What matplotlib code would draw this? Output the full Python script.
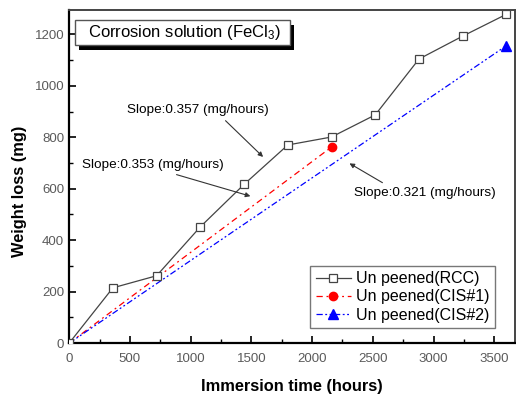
import matplotlib
matplotlib.use("Agg")
import matplotlib.pyplot as plt
from matplotlib.patches import Rectangle

plt.rcParams['font.family'] = ['Liberation Sans', 'DejaVu Sans']
plt.rcParams['mathtext.default'] = 'regular'

# data
hours_rcc = [0, 360, 720, 1080, 1440, 1800, 2160, 2520, 2880, 3240, 3600]
loss_rcc = [0, 215, 262, 452, 617, 770, 801, 887, 1104, 1193, 1278]
hours_cis1 = [0, 2160]
loss_cis1 = [0, 762]
hours_cis2 = [0, 3600]
loss_cis2 = [0, 1156]
labels = ['Un peened(RCC)', 'Un peened(CIS#1)', 'Un peened(CIS#2)']
slopes = ['Slope:0.357 (mg/hours)', 'Slope:0.353 (mg/hours)', 'Slope:0.321 (mg/hours)']

fig = plt.figure(figsize=(5.16, 3.94), dpi=100)
ax = fig.add_axes([0.134, 0.129, 0.864, 0.846])

ax.plot(hours_rcc, loss_rcc, color='#444444', lw=0.9, marker='s', ms=6,
        mfc='white', mec='#444444', mew=0.9, label=labels[0], zorder=3)
ax.plot(hours_cis1, loss_cis1, color='red', lw=0.9, dashes=(5, 3, 1.5, 3),
        marker='o', ms=6, markevery=[1], label=labels[1])
ax.plot(hours_cis2, loss_cis2, color='blue', lw=0.9, dashes=(5, 2, 1.5, 2, 1.5, 2),
        marker='^', ms=7, markevery=[1], label=labels[2])

ax.set_xlim(0, 3670)
ax.set_ylim(0, 1295)
ax.set_xticks(range(0, 4000, 500))
ax.set_xticks(range(250, 3700, 500), minor=True)
ax.set_yticks(range(0, 1400, 200))
ax.set_yticks(range(100, 1300, 200), minor=True)
ax.tick_params(direction='in', length=5, width=1.2, labelsize=9.5, labelcolor='#5a5a5a')
ax.tick_params(axis='x', pad=7)
ax.tick_params(which='minor', direction='in', length=3, width=1)
for s in ['left', 'bottom']:
    ax.spines[s].set_linewidth(1.6)
for s in ['top', 'right']:
    ax.spines[s].set_linewidth(1.4)
    ax.spines[s].set_color('#444444')

ax.set_xlabel('Immersion time (hours)', fontsize=11.8, fontweight='bold', labelpad=10)
ax.set_ylabel('Weight loss (mg)', fontsize=11.8, fontweight='bold')
ax.yaxis.set_label_coords(-0.095, 0.455)

# title box with drop shadow
ax.add_patch(Rectangle((0.0225, 0.88), 0.482, 0.075, transform=ax.transAxes,
                       fc='black', ec='black', lw=0, zorder=5, clip_on=False))
ax.add_patch(Rectangle((0.0135, 0.895), 0.482, 0.075, transform=ax.transAxes,
                       fc='white', ec='#555555', lw=1, zorder=6, clip_on=False))
ax.text(0.043, 0.933, 'Corrosion solution (FeCl$_3$)', transform=ax.transAxes,
        fontsize=12, va='center', ha='left', zorder=7)

arrow = dict(arrowstyle='-|>', color='#333333', lw=0.8, mutation_scale=7)
ax.annotate(slopes[0], xy=(1613, 716), xytext=(477, 906), fontsize=9.7,
            va='center', ha='left', arrowprops=dict(arrow, relpos=(0.66, 0)))
ax.annotate(slopes[1], xy=(1514, 568), xytext=(107, 692), fontsize=9.7,
            va='center', ha='left', arrowprops=dict(arrow, relpos=(0.58, 0)))
ax.annotate(slopes[2], xy=(2288, 704), xytext=(2346, 584), fontsize=9.7,
            va='center', ha='left', arrowprops=dict(arrow, relpos=(0.25, 1)))

leg = ax.legend(loc='lower right', bbox_to_anchor=(0.955, 0.045), fontsize=11.5,
                frameon=True, fancybox=False, edgecolor='#555555',
                handlelength=2.2, handletextpad=0.3, borderpad=0.35, labelspacing=0.2,
                borderaxespad=0)
leg.get_frame().set_linewidth(1)

fig.savefig('out.png', dpi=100)
